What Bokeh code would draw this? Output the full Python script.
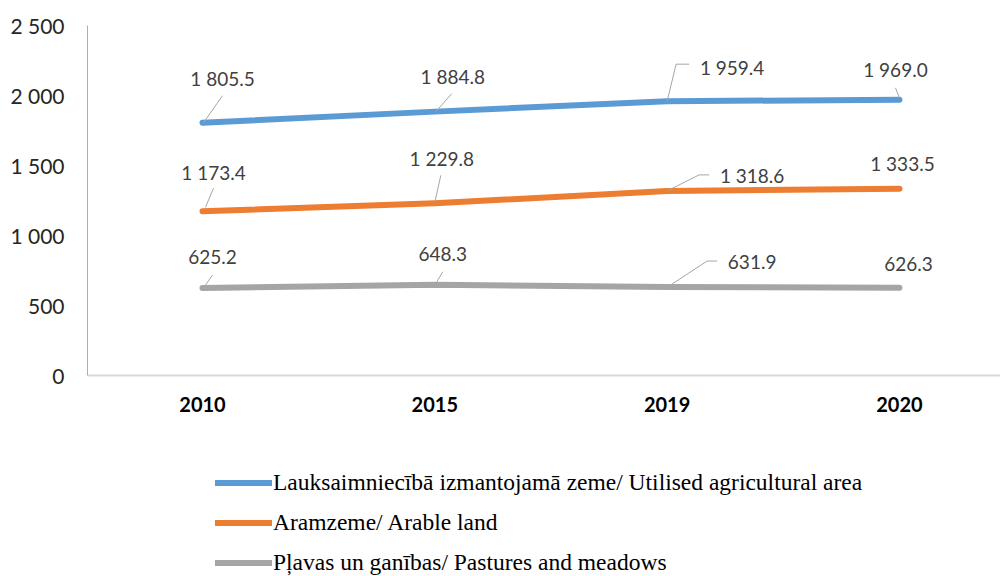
from bokeh.plotting import figure
from bokeh.models import ColumnDataSource, Legend, LegendItem, FixedTicker, Range1d
from bokeh.core.properties import value
from bokeh.embed import file_html
from bokeh.resources import INLINE

# ---- data ----
years = ["2010", "2015", "2019", "2020"]
utilised = [1805.5, 1884.8, 1959.4, 1969.0]
arable = [1173.4, 1229.8, 1318.6, 1333.5]
pastures = [625.2, 648.3, 631.9, 626.3]
series_names = [
    "Lauksaimniecībā izmantojamā zeme/ Utilised agricultural area",
    "Aramzeme/ Arable land",
    "Pļavas un ganības/ Pastures and meadows",
]
y_ticks = [0, 500, 1000, 1500, 2000, 2500]
y_tick_labels = ["0", "500", "1 000", "1 500", "2 000", "2 500"]

# ---- styling / label placement (pixels relative to point) ----
colors = ["#5b9bd5", "#ed7d31", "#a5a5a5"]
label_offsets = [
    [(20, -44), (18, -35), (65, -34), (-4, -30)],
    [(11, -39), (7, -45), (85, -15), (3, -25)],
    [(10, -31), (8, -31), (85, -25), (9, -24)],
]
leader_paths = [
    [[(20, -27), (1, 0)], [(17, -18), (1, 0)], [(22, -37), (9, -37), (0, 0)], [(-4, -12), (0, -2)]],
    [[(11, -23), (3, -4)], [(6, -28), (0, -1)], [(42, -16), (32, -16), (0, 0)], None],
    [[(10, -13), (1, 0)], [(8, -13), (2, -3)], [(50, -26), (40, -26), (5, -3)], None],
]

# plot area: value axis 0..2500 occupies 350 px; frame extends below to host the legend
X0, X1 = -0.495, 3.435
FRAME_W = 913
AXIS_PX = 350
BELOW_PX = 201
Y0, Y1 = 0, 2500
XPX = (X1 - X0) / FRAME_W
YPX = (Y1 - Y0) / AXIS_PX
YMIN = Y0 - BELOW_PX * YPX

p = figure(width=1000, height=576, output_backend="svg", toolbar_location=None,
           x_range=Range1d(X0, X1), y_range=Range1d(YMIN, Y1),
           min_border_left=87, min_border_right=0, min_border_top=25, min_border_bottom=0)
p.outline_line_color = None
p.grid.visible = False

# axes
p.yaxis.ticker = FixedTicker(ticks=y_ticks)
p.yaxis.bounds = (Y0, Y1)
p.yaxis.major_label_overrides = {t: l for t, l in zip(y_ticks, y_tick_labels)}
p.yaxis.axis_line_color = "#8db4e2"
p.yaxis.axis_line_width = 1
p.yaxis.major_tick_line_color = None
p.yaxis.minor_tick_line_color = None
p.yaxis.major_label_standoff = 17
p.yaxis.major_label_text_font = "Lato"
p.yaxis.major_label_text_font_size = "21px"
p.yaxis.major_label_text_color = "#262626"

xs_idx = list(range(len(years)))
p.xaxis.fixed_location = Y0
p.xaxis.ticker = FixedTicker(ticks=xs_idx)
p.xaxis.major_label_overrides = {i: y for i, y in zip(xs_idx, years)}
p.xaxis.axis_line_color = "#d9d9d9"
p.xaxis.axis_line_width = 2
p.xaxis.major_tick_line_color = None
p.xaxis.minor_tick_line_color = None
p.xaxis.major_label_standoff = 15
p.xaxis.major_label_text_font = "Lato"
p.xaxis.major_label_text_font_style = "bold"
p.xaxis.major_label_text_font_size = "20px"
p.xaxis.major_label_text_color = "#000000"

all_series = [utilised, arable, pastures]
renderers = []
for s, vals in enumerate(all_series):
    r = p.line(xs_idx, vals, line_width=6, line_color=colors[s], line_cap="round", line_join="round")
    renderers.append(r)

# leader lines
lx, ly = [], []
for s, vals in enumerate(all_series):
    for i, v in enumerate(vals):
        path = leader_paths[s][i]
        if path is None:
            continue
        lx.append([i + dx * XPX for dx, dy in path])
        ly.append([v - dy * YPX for dx, dy in path])
p.multi_line(lx, ly, line_color="#a6a6a6", line_width=1)

# data labels
tx, ty, tt, tdx, tdy = [], [], [], [], []
for s, vals in enumerate(all_series):
    for i, v in enumerate(vals):
        tx.append(i)
        ty.append(v)
        tt.append(f"{v:,.1f}".replace(",", " "))
        tdx.append(label_offsets[s][i][0])
        tdy.append(label_offsets[s][i][1])
src = ColumnDataSource(dict(x=tx, y=ty, t=tt, dx=tdx, dy=tdy))
p.text("x", "y", text="t", x_offset="dx", y_offset="dy", source=src,
       text_align="center", text_baseline="middle",
       text_font=value("Lato"), text_font_size="19px", text_color="#404040")

legend = Legend(
    items=[LegendItem(label=n, renderers=[r]) for n, r in zip(series_names, renderers)],
    location=(128, 0), orientation="vertical", padding=0, margin=0,
    border_line_color=None, background_fill_alpha=0,
    glyph_width=57, glyph_height=27, label_height=27, spacing=13, label_standoff=1,
    label_text_font="Liberation Serif", label_text_font_size="23.5px", label_text_color="#000000",
)
p.add_layout(legend)

open("out.html", "w").write(file_html(p, INLINE))
